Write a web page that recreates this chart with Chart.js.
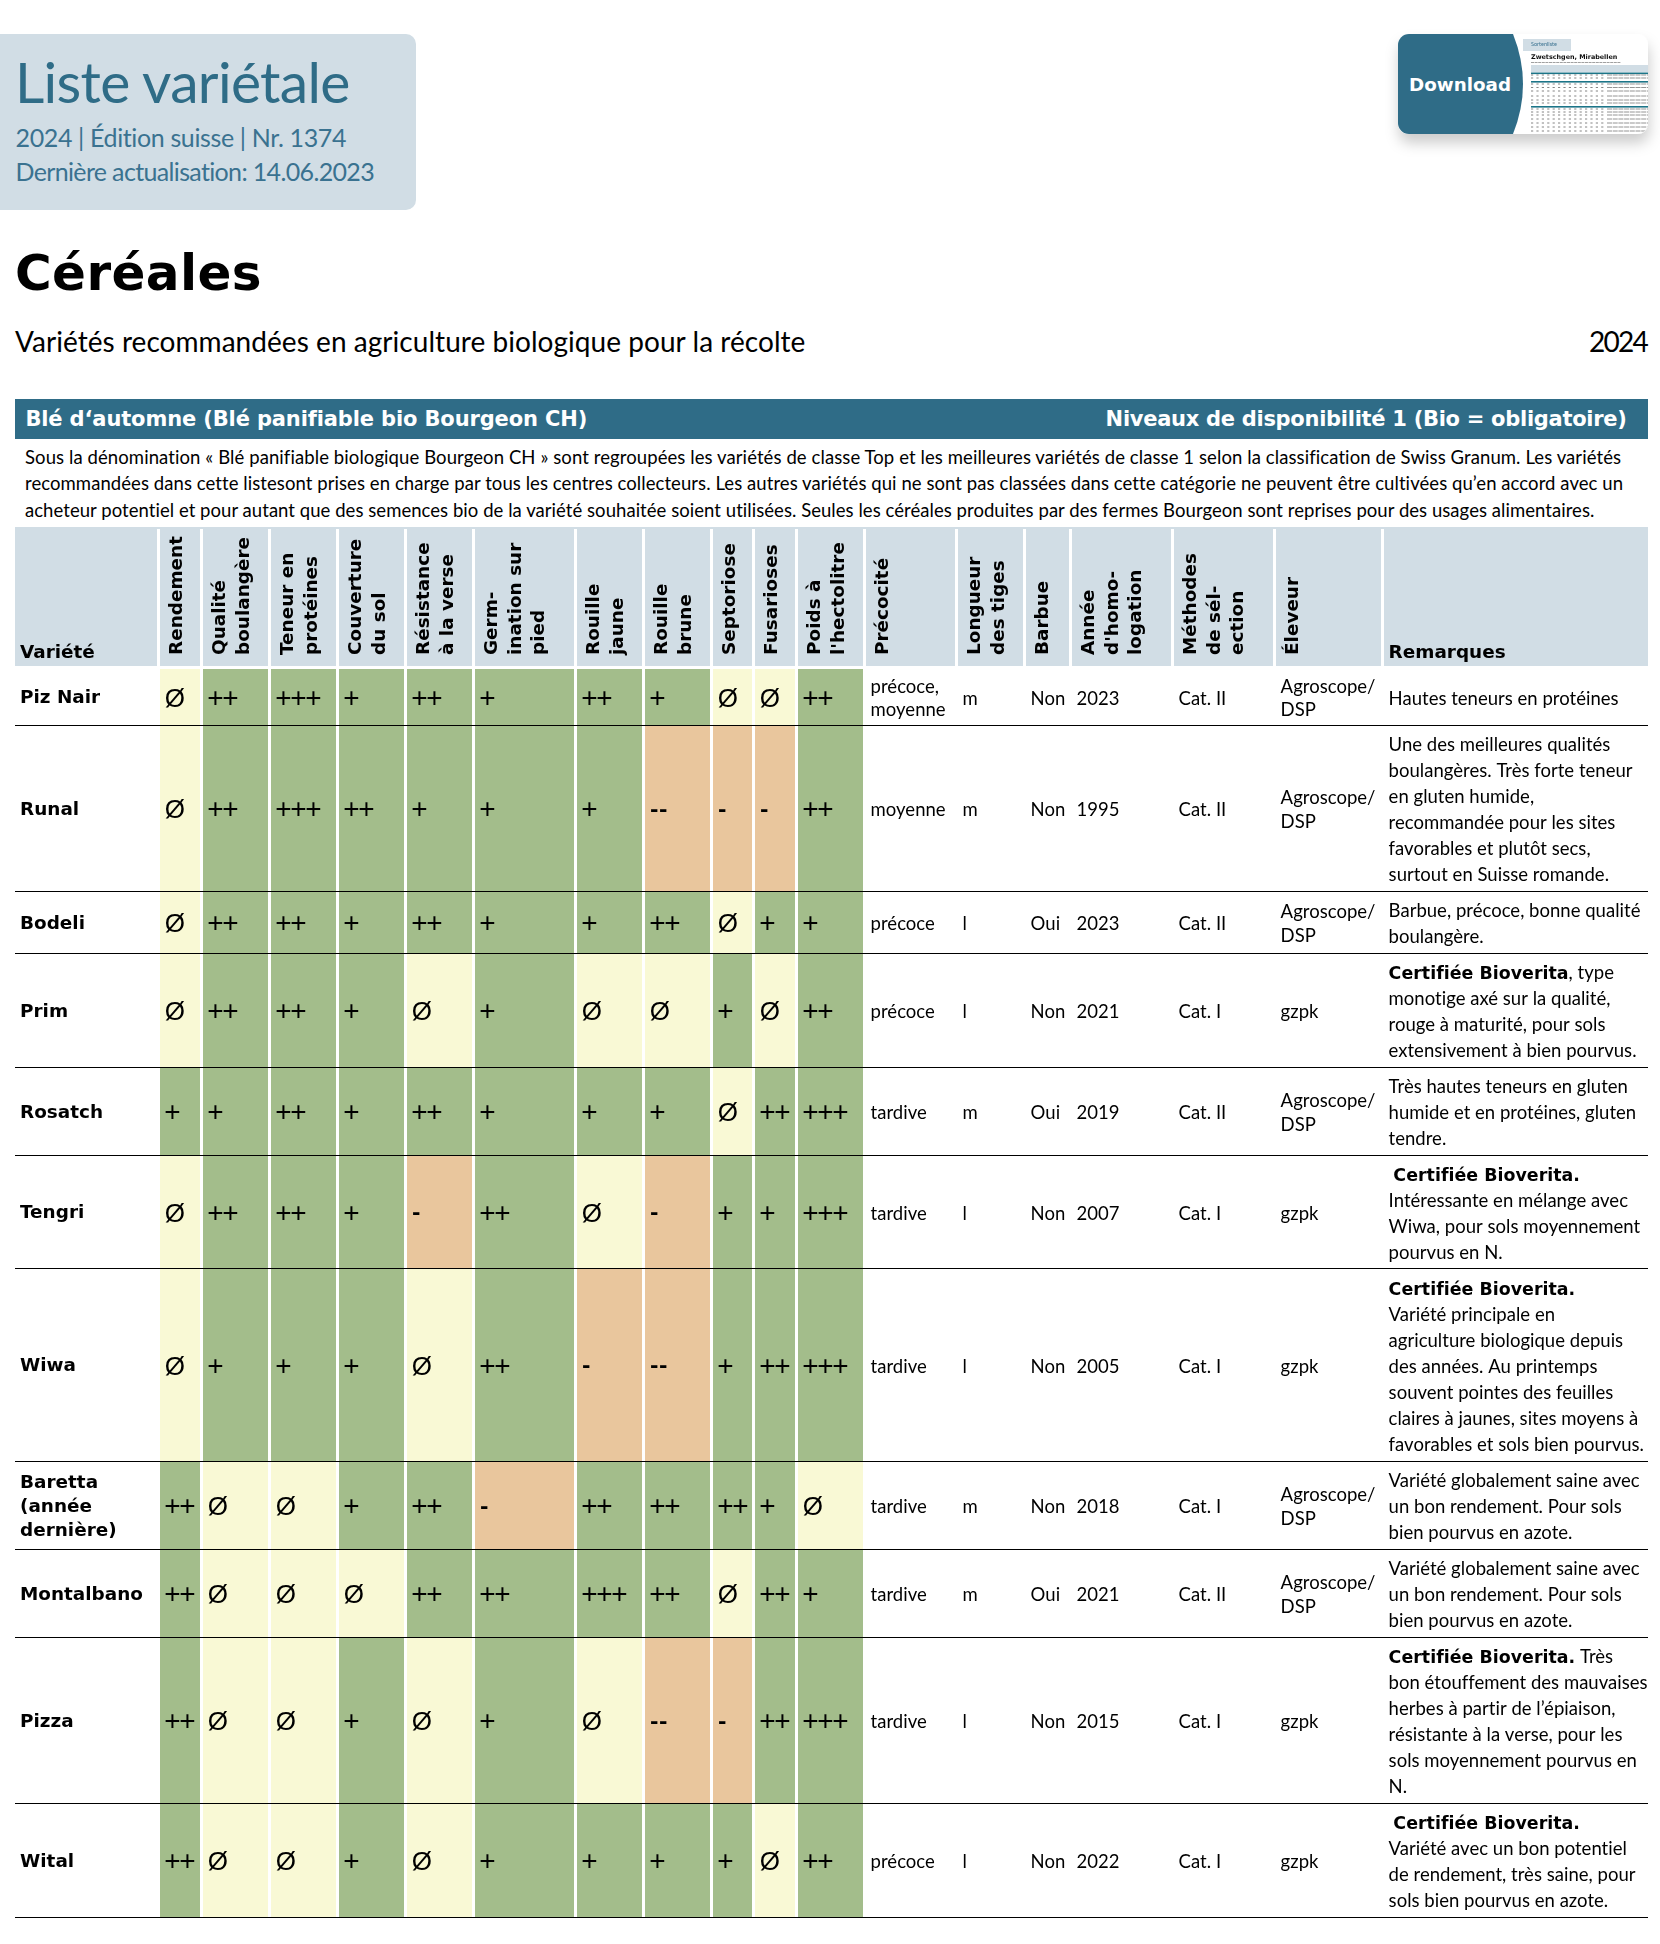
<!DOCTYPE html>
<html lang="fr"><head><meta charset="utf-8"><title>Liste variétale</title>
<script src="https://cdn.jsdelivr.net/npm/chart.js@4"></script>
<style>
html,body{margin:0;padding:0;background:#fff;width:1660px;height:1944px;overflow:hidden}
#page{position:relative;width:1660px;height:1944px;font-family:Lato,sans-serif}
.t{position:absolute;white-space:pre;line-height:1.2;margin:0}
.box{position:absolute}
canvas#c{position:absolute;left:0;top:527px}
</style></head><body><div id="page">
<div class="box" style="left:0;top:34px;width:416px;height:176px;background:#d1dde5;border-radius:0 10px 10px 0"></div>
<div class="box" style="left:15px;top:399px;width:1633px;height:40px;background:#2f6c87"></div>

<svg class="box" style="left:1380px;top:20px;overflow:visible" width="280" height="130" viewBox="1380 20 280 130">
<defs><clipPath id="bc"><rect x="1398" y="34" width="250" height="100" rx="11"/></clipPath>
<filter id="sh" x="-20%" y="-30%" width="140%" height="170%"><feDropShadow dx="1" dy="9" stdDeviation="7" flood-color="#000" flood-opacity=".2"/></filter>
<filter id="bl"><feGaussianBlur stdDeviation=".3"/></filter></defs>
<rect x="1398" y="34" width="250" height="100" rx="11" fill="#fff" filter="url(#sh)"/>
<g clip-path="url(#bc)"><g filter="url(#bl)">
<rect x="1523" y="39" width="48" height="12" fill="#d1dde5"/>
<text x="1531" y="45.5" font-size="5.5" fill="#3a7290" font-family="Lato">Sortenliste</text>
<text x="1531" y="58.5" font-size="6.4" font-weight="700" fill="#111" font-family="DejaVu Sans">Zwetschgen, Mirabellen</text>
<line x1="1531" y1="62.5" x2="1621" y2="62.5" stroke="#888" stroke-width=".8" stroke-dasharray="3 .6"/>
<rect x="1531" y="65" width="117" height="7" fill="#d1dde5"/>
<rect x="1531" y="72.5" width="117" height="1.6" fill="#1f7488"/>
<rect x="1531" y="81" width="117" height="1.6" fill="#1f7488"/>
<rect x="1531" y="106" width="117" height="1.6" fill="#1f7488"/>
<g id="rows"></g></g>
<path d="M1398 34H1513Q1533 84 1513 134H1398Z" fill="#2f6c87"/></g>
</svg>
<canvas id="c" width="1660" height="1417" style="width:1660px;height:1417px"></canvas>
</div>
<script>
// ---- Texts ----
const BOLD='"DejaVu Sans"', BW=700;
const pageTexts = [
  // text, left, baseline, size, weight, colour, target width, family
  ['Liste variétale',15,103.6,57,400,'#2f6c87',336,'Lato'],
  ['2024 | Édition suisse | Nr. 1374',15.5,147,25,400,'#3a7290',331,'Lato'],
  ['Dernière actualisation: 14.06.2023',15.5,180.8,25,400,'#3a7290',359,'Lato'],
  ['Céréales',15,290,50,BW,'#000',247,BOLD],
  ['Variétés recommandées en agriculture biologique pour la récolte',15,352.7,28,400,'#000',791,'Lato'],
  ['2024',1589,352.7,28,400,'#000',58,'Lato'],
  ['Blé d‘automne (Blé panifiable bio Bourgeon CH)',25.4,426,21,BW,'#fff',561,BOLD],
  ['Niveaux de disponibilité 1 (Bio = obligatoire)',1105.6,426,21,BW,'#fff',521,BOLD],
  ['Sous la dénomination « Blé panifiable biologique Bourgeon CH » sont regroupées les variétés de classe Top et les meilleures variétés de classe 1 selon la classification de Swiss Granum. Les variétés',25,464.3,18.5,400,'#000',1598,'Lato'],
  ['recommandées dans cette listesont prises en charge par tous les centres collecteurs. Les autres variétés qui ne sont pas classées dans cette catégorie ne peuvent être cultivées qu’en accord avec un',25,490.6,18.5,400,'#000',1598,'Lato'],
  ['acheteur potentiel et pour autant que des semences bio de la variété souhaitée soient utilisées. Seules les céréales produites par des fermes Bourgeon sont reprises pour des usages alimentaires.',25,517,18.5,400,'#000',1572,'Lato'],
  ['Download',1409,90.7,18.3,BW,'#fff',102,BOLD]
];

// ---- Table categories ----
const varietes = ['Piz Nair','Runal','Bodeli','Prim','Rosatch','Tengri','Wiwa',['Baretta','(année','dernière)'],'Montalbano','Pizza','Wital'];
const entetes = ['Rendement',['Qualité','boulangère'],['Teneur en','protéines'],['Couverture','du sol'],['Résistance','à la verse'],['Germ-','ination sur','pied'],['Rouille','jaune'],['Rouille','brune'],'Septoriose','Fusarioses',['Poids à',"l'hectolitre"],'Précocité',['Longueur','des tiges'],'Barbue',['Année',"d'homo-",'logation'],['Méthodes','de sél-','ection'],'Éleveur'];

// ---- Rating series (one array per trait, one value per variety) ----
const rendement  = ['Ø','Ø','Ø','Ø','+','Ø','Ø','++','++','++','++'];
const qualite    = ['++','++','++','++','+','++','+','Ø','Ø','Ø','Ø'];
const teneur     = ['+++','+++','++','++','++','++','+','Ø','Ø','Ø','Ø'];
const couverture = ['+','++','+','+','+','+','+','+','Ø','+','+'];
const resistance = ['++','+','++','Ø','++','-','Ø','++','++','Ø','Ø'];
const germination= ['+','+','+','+','+','++','++','-','++','+','+'];
const rJaune     = ['++','+','+','Ø','+','Ø','-','++','+++','Ø','+'];
const rBrune     = ['+','--','++','Ø','+','-','--','++','++','--','+'];
const septoriose = ['Ø','-','Ø','+','Ø','+','+','++','Ø','-','+'];
const fusarioses = ['Ø','-','+','Ø','++','+','++','+','++','++','Ø'];
const hectolitre = ['++','++','+','++','+++','+++','+++','Ø','+','+++','++'];

// ---- Descriptive columns ----
const precocite = [['précoce,','moyenne'],'moyenne','précoce','précoce','tardive','tardive','tardive','tardive','tardive','tardive','précoce'];
const longueur  = ['m','m','l','l','m','l','l','m','m','l','l'];
const barbue    = ['Non','Non','Oui','Non','Oui','Non','Non','Non','Oui','Non','Non'];
const annee     = ['2023','1995','2023','2021','2019','2007','2005','2018','2021','2015','2022'];
const methodes  = ['Cat. II','Cat. II','Cat. II','Cat. I','Cat. II','Cat. I','Cat. I','Cat. I','Cat. II','Cat. I','Cat. I'];
const eleveurAD = ['Agroscope/','DSP'];
const eleveur   = [eleveurAD,eleveurAD,eleveurAD,'gzpk',eleveurAD,'gzpk','gzpk',eleveurAD,eleveurAD,'gzpk','gzpk'];
const remarques = [
 ['Hautes teneurs en protéines'],
 ['Une des meilleures qualités','boulangères. Très forte teneur','en gluten humide,','recommandée pour les sites','favorables et plutôt secs,','surtout en Suisse romande.'],
 ['Barbue, précoce, bonne qualité','boulangère.'],
 ['**Certifiée Bioverita**, type','monotige axé sur la qualité,','rouge à maturité, pour sols','extensivement à bien pourvus.'],
 ['Très hautes teneurs en gluten','humide et en protéines, gluten','tendre.'],
 [' **Certifiée Bioverita.**','Intéressante en mélange avec','Wiwa, pour sols moyennement','pourvus en N.'],
 ['**Certifiée Bioverita.**','Variété principale en','agriculture biologique depuis','des années. Au printemps','souvent pointes des feuilles','claires à jaunes, sites moyens à','favorables et sols bien pourvus.'],
 ['Variété globalement saine avec','un bon rendement. Pour sols','bien pourvus en azote.'],
 ['Variété globalement saine avec','un bon rendement. Pour sols','bien pourvus en azote.'],
 ['**Certifiée Bioverita.** Très','bon étouffement des mauvaises','herbes à partir de l’épiaison,','résistante à la verse, pour les','sols moyennement pourvus en','N.'],
 [' **Certifiée Bioverita.**','Variété avec un bon potentiel','de rendement, très saine, pour','sols bien pourvus en azote.']
];

// ---- Layout of the table (scale units) ----
const colWidths = [43,68,68,68,68,102,68,68,42,43,68,92,68,46,102,102,108,264];
const rowHeights = [57,166,62,114,88,113,193,88,88,166,114];
const colEdges = colWidths.reduce((a,w)=>(a.push(a[a.length-1]+w),a),[0]);
const rowEdges = rowHeights.reduce((a,h)=>(a.push(a[a.length-1]+h),a),[0]);
const GREEN='#a3bd8b', YELLOW='#f9f9d5', ORANGE='#e9c69d', HEAD='#d1dde5';
const levelColour = {'+++':GREEN,'++':GREEN,'+':GREEN,'Ø':YELLOW,'-':ORANGE,'--':ORANGE};
const traits = [rendement,qualite,teneur,couverture,resistance,germination,rJaune,rBrune,septoriose,fusarioses,hectolitre];
const textCols = [precocite,longueur,barbue,annee,methodes,eleveur];
const levels = ['+++','++','+','Ø','-','--'];

// ---- Page texts as DOM ----
const mc = document.createElement('canvas').getContext('2d');
const page = document.getElementById('page');
const ASC={'Lato':0.987,'"DejaVu Sans"':0.928}, LH={'Lato':1.2,'"DejaVu Sans"':1.164};
pageTexts.forEach(([s,x,b,size,w,col,target,fam])=>{
  const e=document.createElement('div'); e.className='t'; e.textContent=s;
  mc.font=`${w} ${size}px ${fam}`;
  const ls=(target-mc.measureText(s).width)/s.length;
  e.style.cssText=`left:${x}px;top:${b-ASC[fam]*size}px;font-family:${fam};line-height:${LH[fam]};font-size:${size}px;font-weight:${w};color:${col};letter-spacing:${ls}px`;
  page.appendChild(e);
});
// thumbnail rows of the download preview
(function(){
  const g=document.getElementById('rows'); const ns='http://www.w3.org/2000/svg';
  [75,78,84,87.5,91,96,100,103,109,112,115,119,123,127,131].forEach(y=>{
    [[1531,1605,'2.2 3.2','#777',.9],[1607,1648,'5 .7','#888',.9]].forEach(([a,b,d,c,w])=>{
      const l=document.createElementNS(ns,'line');
      l.setAttribute('x1',a);l.setAttribute('x2',b);l.setAttribute('y1',y);l.setAttribute('y2',y);
      l.setAttribute('stroke',c);l.setAttribute('stroke-width',w);l.setAttribute('stroke-dasharray',d);g.appendChild(l);
    });
  });
})();
function spacing(font,s,target){mc.font=font;mc.letterSpacing='0px';return (target-mc.measureText(s).width)/s.length+'px';}
const HS=18.4;
const FB=`${BW} ${HS}px ${BOLD}`, FR='400 18.5px Lato', FBR=`${BW} 17.4px ${BOLD}`;
const lsHead=spacing(FB,'Rendement',119), lsBody=spacing(FR,'Hautes teneurs en protéines',230), lsBold=spacing(FBR,'Certifiée Bioverita,',186);

const datasets = levels.map(l=>({label:l,backgroundColor:levelColour[l],pointRadius:0,showLine:false,
  data:traits.flatMap((t,c)=>t.map((v,r)=>v===l?{x:colEdges[c]+colWidths[c]/2,y:rowEdges[r]+rowHeights[r]/2,c,r}:null)).filter(Boolean)}));

const tablePlugin={id:'table',
 beforeDraw(ch){
  const {ctx,scales:{x,y}}=ch; const top=0,bot=139;
  ctx.save(); ctx.fillStyle=HEAD;
  ctx.fillRect(15,top,1633,bot-top);
  ctx.fillStyle='#fff';
  const gaps=[x.getPixelForValue(0)-3,...colEdges.slice(1,-1).map(v=>x.getPixelForValue(v)-3)];
  gaps.forEach(g=>ctx.fillRect(g,top+2,3,bot-top-2));
  ctx.fillStyle='#000'; ctx.font=FB; ctx.letterSpacing=lsHead; ctx.textBaseline='alphabetic'; ctx.textAlign='left';
  ctx.fillText('Variété',20,130.6);
  ctx.fillText('Remarques',x.getPixelForValue(colEdges[17])+4.6,130.6);
  ctx.restore();
  ctx.letterSpacing=lsHead;
 },
 beforeDatasetsDraw(ch){
  const {ctx,scales:{x,y}}=ch;
  ctx.letterSpacing='0px';
  ctx.save();
  // cells
  ch.data.datasets.forEach(ds=>{ctx.fillStyle=ds.backgroundColor;ds.data.forEach(p=>{
    const l=x.getPixelForValue(colEdges[p.c]), r=x.getPixelForValue(colEdges[p.c+1])-3;
    const t=y.getPixelForValue(rowEdges[p.r]), b=y.getPixelForValue(rowEdges[p.r+1]);
    ctx.fillRect(l,t,r-l,b-t);});});
  // separators
  ctx.fillStyle='#000';
  rowEdges.slice(1).forEach(v=>ctx.fillRect(15,y.getPixelForValue(v)-1,1633,1));
  // symbols
  ctx.textAlign='left'; ctx.textBaseline='alphabetic';
  ch.data.datasets.forEach(ds=>ds.data.forEach(p=>{
    const l=x.getPixelForValue(colEdges[p.c])+4.3, cy=y.getPixelForValue(p.y);
    if(ds.label==='Ø'){ctx.font='400 26px "Liberation Sans"';ctx.letterSpacing='0px';ctx.fillText('Ø',l+0.5,cy+9);}
    else if(ds.label[0]==='+'){ctx.font='400 28px "Liberation Sans"';ctx.letterSpacing='-1.35px';ctx.fillText(ds.label,l,cy+9);}
    else {ctx.font='900 24px Lato';ctx.letterSpacing='0px';ctx.fillText(ds.label,l+0.5,cy+8.5);}
  }));
  // descriptive columns
  ctx.font=FR; ctx.letterSpacing=lsBody;
  textCols.forEach((col,ci)=>col.forEach((v,r)=>{
    const lines=Array.isArray(v)?v:[v];
    const px=x.getPixelForValue(colEdges[11+ci])+4.6;
    const cy=y.getPixelForValue(rowEdges[r]+rowHeights[r]/2)+7;
    lines.forEach((s,i)=>ctx.fillText(s,px,cy+(i-(lines.length-1)/2)*23.2));
  }));
  // remarks with bold runs
  remarques.forEach((lines,r)=>{
    const px=x.getPixelForValue(colEdges[17])+4.6;
    const cy=y.getPixelForValue(rowEdges[r]+rowHeights[r]/2)+7;
    lines.forEach((s,i)=>{
      let cx=px; const by=cy+(i-(lines.length-1)/2)*26;
      s.split('**').forEach((seg,k)=>{
        if(!seg) return;
        if(k%2){ctx.font=FBR;ctx.letterSpacing=lsBold;} else {ctx.font=FR;ctx.letterSpacing=lsBody;}
        ctx.fillText(seg,cx,by); cx+=ctx.measureText(seg).width;
      });
    });
  });
  ctx.restore();
 }};

const HLH=23.3;
new Chart(document.getElementById('c').getContext('2d'),{
 type:'scatter',
 data:{datasets},
 plugins:[tablePlugin],
 options:{responsive:false,animation:false,events:[],devicePixelRatio:1,
  layout:{autoPadding:false,padding:{left:20,right:12,top:0,bottom:26}},
  plugins:{legend:{display:false},tooltip:{enabled:false},title:{display:false}},
  scales:{
   x:{type:'linear',position:'top',min:0,max:colEdges[colEdges.length-1],
    grid:{display:false,drawTicks:false},border:{display:false},
    afterFit(s){s.height=142;},
    afterBuildTicks(s){s.ticks=entetes.map((h,i)=>({value:colEdges[i]+6+((Array.isArray(h)?h.length:1)+0.5)*HLH}));},
    ticks:{autoSkip:false,minRotation:90,maxRotation:90,padding:14,color:'#000',font:{family:'"DejaVu Sans"',size:HS,weight:BW,lineHeight:HLH/HS},
     callback:(v,i)=>entetes[i]}},
   y:{type:'linear',position:'left',reverse:true,min:0,max:rowEdges[rowEdges.length-1],
    grid:{display:false,drawTicks:false},border:{display:false},
    afterFit(s){s.width=140;},
    afterBuildTicks(s){s.ticks=varietes.map((h,i)=>({value:rowEdges[i]+rowHeights[i]/2+1}));},
    ticks:{autoSkip:false,crossAlign:'far',padding:0,color:'#000',font:{family:'"DejaVu Sans"',size:HS,weight:BW,lineHeight:24/HS},
     callback:(v,i)=>varietes[i]}}
  }}
});
</script></body></html>
